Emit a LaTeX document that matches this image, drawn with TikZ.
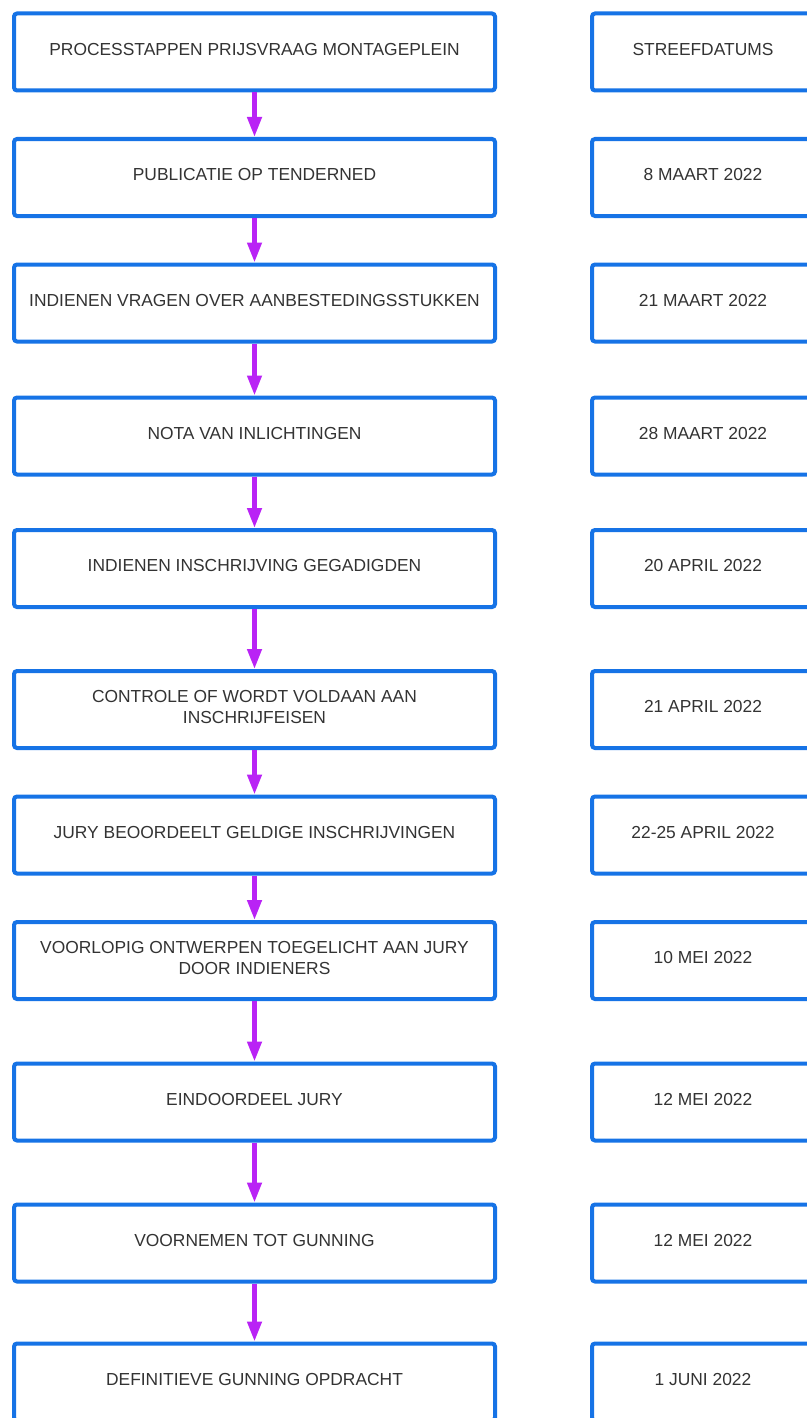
\documentclass[tikz,border=0pt]{standalone}
\usepackage{fontspec}
\setmainfont{Liberation Sans}
\usetikzlibrary{arrows.meta, positioning}
\definecolor{boxblue}{RGB}{22,115,230}
\definecolor{flowpurple}{RGB}{185,35,245}
\definecolor{textgray}{RGB}{51,51,51}

\begin{document}
\begin{tikzpicture}[x=1pt, y=-1pt,
	rec/.style   = {draw=boxblue, line width=4pt, rectangle, rounded corners=3pt, minimum height=77pt, inner sep=0pt, text depth=6pt, align=center, text=textgray, font=\fontsize{17.4}{21}\selectfont},
	stage/.style = {rec, minimum width=481pt},
	date/.style  = {rec, minimum width=222pt},
	flow/.style  = {->, draw=flowpurple, line width=4.5pt},
	>={Triangle[width=14pt, length=20pt]}]
	
	\useasboundingbox (0,0) rectangle (806,1418);
	
	% process steps, left column
	\node[stage] (s1)  at (254.5,52)   {PROCESSTAPPEN PRIJSVRAAG MONTAGEPLEIN};
	\node[stage] (s2)  at (254.5,177.5) {PUBLICATIE OP TENDERNED};
	\node[stage] (s3)  at (254.5,303)  {INDIENEN VRAGEN OVER AANBESTEDINGSSTUKKEN};
	\node[stage] (s4)  at (254.5,436)  {NOTA VAN INLICHTINGEN};
	\node[stage] (s5)  at (254.5,568.5) {INDIENEN INSCHRIJVING GEGADIGDEN};
	\node[stage] (s6)  at (254.5,709.5) {CONTROLE OF WORDT VOLDAAN AAN\\INSCHRIJFEISEN};
	\node[stage] (s7)  at (254.5,835)  {JURY BEOORDEELT GELDIGE INSCHRIJVINGEN};
	\node[stage] (s8)  at (254.5,960.5) {VOORLOPIG ONTWERPEN TOEGELICHT AAN JURY\\DOOR INDIENERS};
	\node[stage] (s9)  at (254.5,1102) {EINDOORDEEL JURY};
	\node[stage] (s10) at (254.5,1243) {VOORNEMEN TOT GUNNING};
	\node[stage] (s11) at (254.5,1382) {DEFINITIEVE GUNNING OPDRACHT};
	
	% target dates, right column
	\node[date, right=93pt of s1]  (d1)  {STREEFDATUMS};
	\node[date, right=93pt of s2]  (d2)  {8 MAART 2022};
	\node[date, right=93pt of s3]  (d3)  {21 MAART 2022};
	\node[date, right=93pt of s4]  (d4)  {28 MAART 2022};
	\node[date, right=93pt of s5]  (d5)  {20 APRIL 2022};
	\node[date, right=93pt of s6]  (d6)  {21 APRIL 2022};
	\node[date, right=93pt of s7]  (d7)  {22-25 APRIL 2022};
	\node[date, right=93pt of s8]  (d8)  {10 MEI 2022};
	\node[date, right=93pt of s9]  (d9)  {12 MEI 2022};
	\node[date, right=93pt of s10] (d10) {12 MEI 2022};
	\node[date, right=93pt of s11] (d11) {1 JUNI 2022};
	
	% arrows between consecutive steps
	\foreach \value [evaluate=\value as \next using int(\value+1)] in {1,...,10}
	\draw[flow] (s\value.south) -- (s\next.north);
\end{tikzpicture}
\end{document}
